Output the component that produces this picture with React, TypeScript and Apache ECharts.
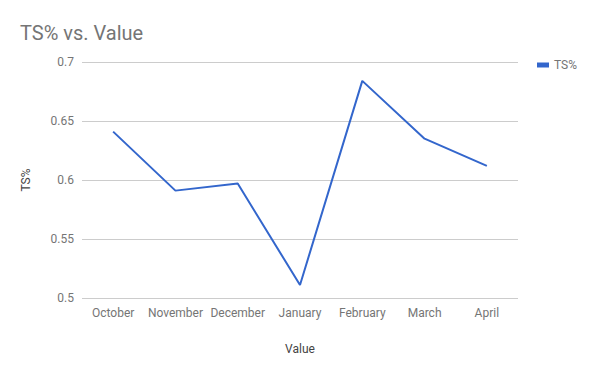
import React, { useEffect, useRef } from "react";
import * as echarts from "echarts";

const categories = ["October", "November", "December", "January", "February", "March", "April"];
const tsValues = [0.641, 0.591, 0.597, 0.511, 0.684, 0.635, 0.612];
const yTicks = { min: 0.5, max: 0.7, interval: 0.05 };

export default function App() {
  const ref = useRef<HTMLDivElement>(null);
  useEffect(() => {
    if (!ref.current) return;
    const chart = echarts.init(ref.current, null, { renderer: "svg" });
    chart.setOption({
      animation: false,
      backgroundColor: "#ffffff",
      title: {
        text: "TS% vs. Value",
        left: 15,
        top: 18,
        textStyle: { fontFamily: "Roboto", fontSize: 20, fontWeight: "normal", color: "#757575" },
      },
      legend: {
        right: 18,
        top: 54,
        itemWidth: 12,
        itemHeight: 5,
        icon: "rect",
        itemGap: 8,
        textStyle: { fontFamily: "Roboto", fontSize: 12, color: "#757575" },
        data: ["TS%"],
      },
      grid: { left: 82, right: 82, top: 62, bottom: 73, containLabel: false },
      xAxis: {
        type: "category",
        data: categories,
        boundaryGap: true,
        name: "Value",
        nameLocation: "middle",
        nameGap: 45,
        nameTextStyle: { fontFamily: "Roboto", fontSize: 12, color: "#444444" },
        axisLine: { show: false },
        axisTick: { show: false },
        axisLabel: { fontFamily: "Roboto", fontSize: 12, color: "#757575", margin: 9, interval: 0 },
      },
      yAxis: {
        type: "value",
        min: yTicks.min,
        max: yTicks.max,
        interval: yTicks.interval,
        name: "TS%",
        nameLocation: "middle",
        nameGap: 50,
        nameTextStyle: { fontFamily: "Roboto", fontSize: 12, color: "#444444" },
        axisLine: { show: false },
        axisTick: { show: false },
        axisLabel: { fontFamily: "Roboto", fontSize: 12, color: "#757575", margin: 8 },
        splitLine: { lineStyle: { color: "#cccccc", width: 1 } },
      },
      series: [
        {
          name: "TS%",
          type: "line",
          data: tsValues,
          symbol: "none",
          lineStyle: { color: "#3366cc", width: 2 },
          itemStyle: { color: "#3366cc" },
        },
      ],
    });
    return () => chart.dispose();
  }, []);
  return <div ref={ref} style={{ width: 600, height: 371, margin: -8 }} />;
}
